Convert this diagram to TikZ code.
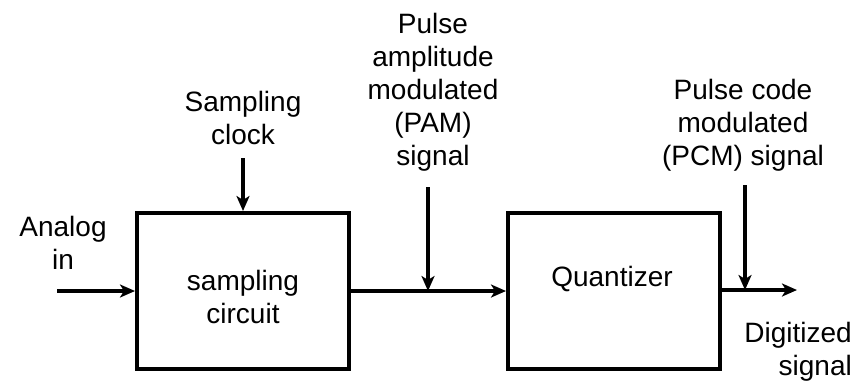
\documentclass[tikz,border=0pt]{standalone}
\usepackage{fontspec}
\setmainfont{Liberation Sans}
\usetikzlibrary{arrows.meta}
\begin{document}
\begin{tikzpicture}[x=1pt,y=-1pt,
  blk/.style={draw,line width=4pt,minimum width=212pt,minimum height=156pt,inner sep=0pt},
  lbl/.style={align=center,inner sep=0pt,font=\fontsize{28}{33}\selectfont},
  wire/.style={line width=4pt,-{Stealth[length=15pt,width=13pt,inset=4pt]}}]
\useasboundingbox (0,0) rectangle (853,381);
\node[blk] (samp) at (243,291) {};
\node[blk] (quant) at (614,291) {};
\node[lbl] (samptext) at (243,297) {sampling\\circuit};
\node[lbl] (quanttext) at (612,279) {Quantizer};
\node[lbl] (analog) at (63,243) {Analog\\in};
\node[lbl] (clock) at (243,118) {Sampling\\clock};
\node[lbl] (pam) at (433,92) {Pulse\\amplitude\\modulated\\(PAM)\\signal};
\node[lbl] (pcm) at (743,125) {Pulse code\\modulated\\(PCM) signal};
\node[lbl,align=right,anchor=east] (dig) at (852,352) {Digitized\\signal};
\coordinate (ain) at (57,291);
\coordinate (clktop) at (243,158);
\coordinate (pamtop) at (428,187);
\coordinate (pamj) at (428,291);
\coordinate (pcmtop) at (745,185);
\coordinate (pcmj) at (745,290);
\coordinate (outend) at (797,290);
\draw[wire] (ain) -- (samp.west);
\draw[wire] (clktop) -- (samp.north);
\draw[wire] (samp.east) -- (quant.west);
\draw[wire] (pamtop) -- (pamj);
\draw[wire] (quant.east |- outend) -- (outend);
\draw[wire] (pcmtop) -- (pcmj);
\end{tikzpicture}
\end{document}
